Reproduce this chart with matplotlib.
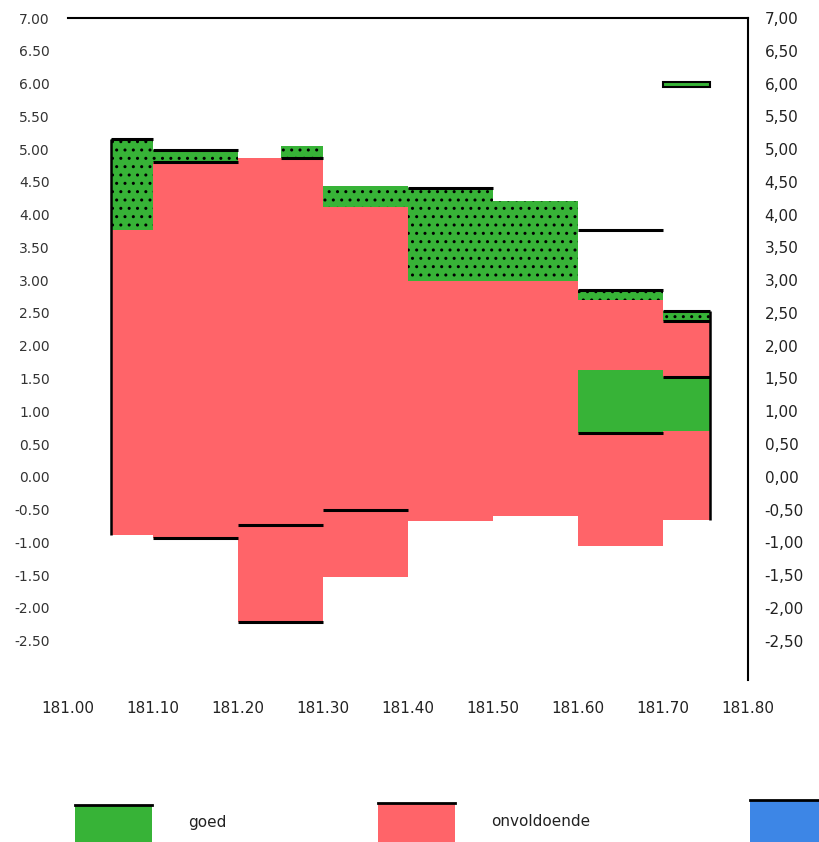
#!/usr/bin/env python3
# -*- coding: utf-8 -*-

import matplotlib.pyplot as plt
import numpy as np
from matplotlib.patches import Rectangle
from matplotlib.ticker import FixedLocator

nan = np.nan

# ------------ data ------------ #

# vakgrenzen in km
km_edges = [181.05, 181.10, 181.15, 181.20, 181.25, 181.30, 181.35, 181.40,
            181.45, 181.50, 181.55, 181.60, 181.65, 181.70, 181.755]

# rood vlak (onvoldoende)
red_bottom = [-0.89, -0.93, -0.93, -2.21, -2.21, -1.53, -1.53,
              -0.67, -0.67, -0.60, -0.60, -1.05, -1.05, -0.66]
red_top = [3.77, 4.81, 4.81, 4.86, 4.86, 4.12, 4.12,
           2.99, 2.99, 2.99, 2.99, 2.70, 2.70, 2.37]

# groene strook boven het rode vlak (gestippeld); 4.86 in vak 4 = geen strook
green_top = [5.15, 4.98, 4.98, 4.86, 5.05, 4.44, 4.44,
             4.41, 4.41, 4.21, 4.21, 2.85, 2.85, 2.53]

# groen blok midden in het rode vlak
mid_low = [nan, nan, nan, nan, nan, nan, nan, nan, nan, nan, nan, 0.67, 0.67, 0.70]
mid_high = [nan, nan, nan, nan, nan, nan, nan, nan, nan, nan, nan, 1.63, 1.63, 1.52]

# los groen balkje bovenin
extra_low = [nan, nan, nan, nan, nan, nan, nan, nan, nan, nan, nan, nan, nan, 5.94]
extra_high = [nan, nan, nan, nan, nan, nan, nan, nan, nan, nan, nan, nan, nan, 6.03]

# zwarte niveaulijnen
line_start = [181.05, 181.10, 181.10, 181.10, 181.20, 181.20, 181.25, 181.30,
              181.40, 181.60, 181.60, 181.60, 181.70, 181.70, 181.70]
line_end = [181.10, 181.20, 181.20, 181.20, 181.30, 181.30, 181.30, 181.40,
            181.50, 181.70, 181.70, 181.70, 181.755, 181.755, 181.755]
line_level = [5.15, 4.98, 4.81, -0.93, -0.73, -2.21, 4.86, -0.50,
              4.41, 2.85, 3.77, 0.67, 2.53, 2.37, 1.52]

# zwarte verticale randen
vline_x = [181.05, 181.755]
vline_lo = [-0.89, -0.66]
vline_hi = [5.15, 2.53]

yticks = [7.0, 6.5, 6.0, 5.5, 5.0, 4.5, 4.0, 3.5, 3.0, 2.5, 2.0, 1.5, 1.0,
          0.5, 0.0, -0.5, -1.0, -1.5, -2.0, -2.5]
ymarks = [7.0, 6.0, 1.5, 0.5, -0.5]
xticks = [181.0, 181.1, 181.2, 181.3, 181.4, 181.5, 181.6, 181.7, 181.8]

legend_labels = ["goed", "onvoldoende", ""]

RED = "#ff6469"
GREEN = "#37b337"
BLUE = "#3d86e6"

plt.rcParams['hatch.linewidth'] = 1.0


def stepped(values):
    # repeat the last value so step='post' closes the last vak
    v = list(values)
    return np.array(v + [v[-1]], dtype=float)


# ------------ plot ------------ #

fig = plt.figure(figsize=(8.2, 8.42), dpi=100)
W, H = 820.0, 842.0
ax = fig.add_axes([68 / W, 1 - 680 / H, (748 - 68) / W, (680 - 18) / H])

x = np.array(km_edges)

ax.fill_between(x, stepped(red_bottom), stepped(red_top), step='post',
                facecolor=RED, linewidth=0)
ax.fill_between(x, stepped(red_top), stepped(green_top), step='post',
                facecolor=GREEN, edgecolor='black', linewidth=0, hatch='..')
ax.fill_between(x, stepped(mid_low), stepped(mid_high), step='post',
                facecolor=GREEN, linewidth=0)

left = x[:-1]
width = np.diff(x)
ax.bar(left, np.array(extra_high) - np.array(extra_low), bottom=extra_low, width=width,
       align='edge', color=GREEN, edgecolor='black', linewidth=1.5)

ax.hlines(line_level, line_start, line_end, colors='black', linewidth=2.2)
ax.vlines(vline_x, vline_lo, vline_hi, colors='black', linewidth=1.8)

ax.set_xlim(181.0, 181.8)
ax.set_ylim(-3.1, 7.0)

for s in ['left', 'bottom']:
    ax.spines[s].set_visible(False)
ax.spines['top'].set_linewidth(1.5)
ax.spines['right'].set_linewidth(1.5)

ax.set_xticks(xticks)
ax.set_xticklabels(["%.2f" % v for v in xticks])
ax.tick_params(axis='x', length=0, pad=15, labelsize=11, colors='#222222')

ax.set_yticks(yticks)
ax.set_yticklabels(["%.2f" % v for v in yticks])
ax.tick_params(axis='y', which='major', length=0, pad=13, labelsize=10, colors='#333333')
ax.yaxis.set_minor_locator(FixedLocator(ymarks))
ax.tick_params(axis='y', which='minor', length=6, width=1.2, direction='out')

ax2 = ax.twinx()
ax2.set_ylim(ax.get_ylim())
for s in ['left', 'bottom', 'top', 'right']:
    ax2.spines[s].set_visible(False)
ax2.set_yticks(yticks)
ax2.set_yticklabels([("%.2f" % v).replace('.', ',') for v in yticks])
ax2.tick_params(axis='y', which='major', length=0, pad=12, labelsize=11, colors='#222222')
ax2.yaxis.set_minor_locator(FixedLocator(ymarks[1:]))
ax2.tick_params(axis='y', which='minor', length=6, width=1.2, direction='out')

# ------------ legend along the bottom ------------ #

leg_x = [75, 378, 750]
leg_top = [805, 803, 800]
leg_colors = [GREEN, RED, BLUE]
for k in range(3):
    x0 = leg_x[k] / W
    y0 = 1 - leg_top[k] / H
    fig.add_artist(Rectangle((x0, 0), 77 / W, y0, transform=fig.transFigure,
                             facecolor=leg_colors[k], edgecolor='none'))
    fig.add_artist(plt.Line2D([x0, x0 + 77 / W], [y0, y0], transform=fig.transFigure,
                              color='black', linewidth=2))
    if legend_labels[k]:
        fig.text((leg_x[k] + 113) / W, 1 - 822 / H, legend_labels[k], fontsize=11,
                 va='center', ha='left', color='#222222')

plt.savefig("out.png", dpi=100)
